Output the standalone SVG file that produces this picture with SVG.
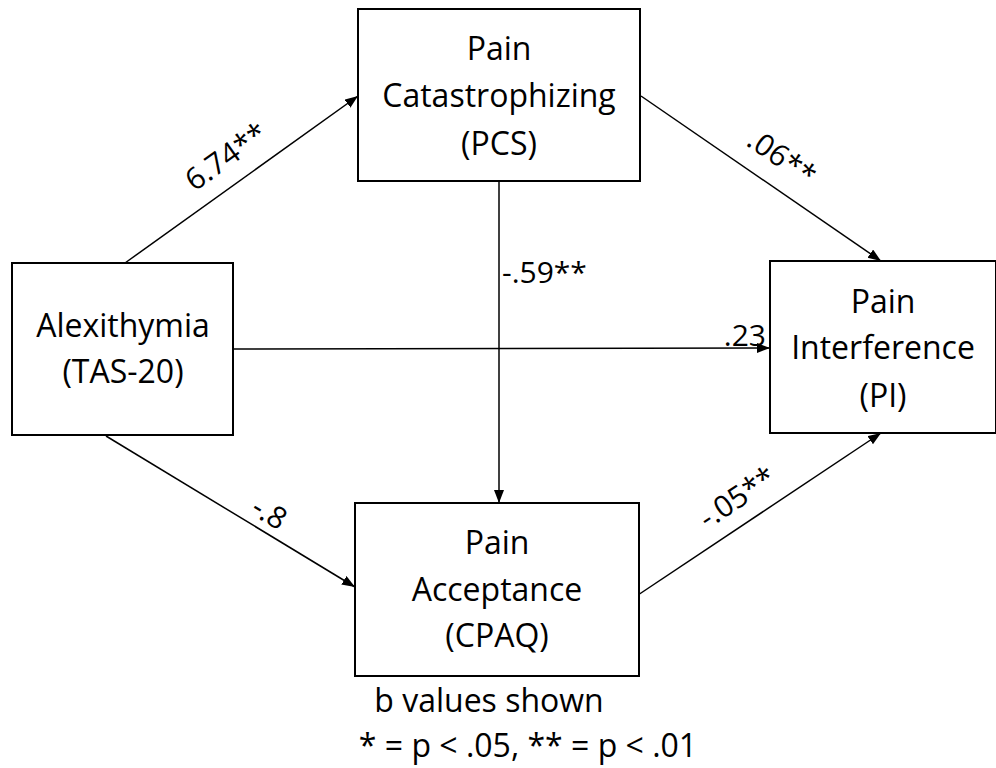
<svg xmlns="http://www.w3.org/2000/svg" width="996" height="768" viewBox="0 0 996 768">
<style>
.box{fill:#fff;stroke:#000;stroke-width:2}
.t{font-family:"Open Sans","Liberation Sans",Arial,sans-serif;font-size:32px;fill:#000;text-anchor:middle}
.l{font-family:"Open Sans","Liberation Sans",Arial,sans-serif;font-size:30px;fill:#000}
.c{stroke:#000;stroke-width:1.5;fill:none;marker-end:url(#ah)}
</style>
<defs>
<marker id="ah" markerUnits="userSpaceOnUse" markerWidth="14" markerHeight="12" refX="13" refY="5" orient="auto">
<path d="M0,0 L13,5 L0,10 z" fill="#000"/>
</marker>
</defs>
<rect width="996" height="768" fill="#fff"/>
<g id="connectors">
<line class="c" x1="125" y1="263" x2="358" y2="96"/>
<line class="c" x1="641" y1="96" x2="881" y2="261"/>
<line class="c" x1="638" y1="595" x2="881" y2="433"/>
<line class="c" x1="106" y1="436" x2="355" y2="587"/>
<line class="c" x1="499" y1="181" x2="499" y2="503"/>
<line class="c" x1="233" y1="349" x2="770" y2="348"/>
<text class="l" text-anchor="middle" transform="translate(232,165) rotate(-35.6)">6.74**</text>
<text class="l" text-anchor="middle" transform="translate(776,166) rotate(34.8)">.06**</text>
<text class="l" text-anchor="middle" transform="translate(743,506) rotate(-33.5)">-.05**</text>
<text class="l" text-anchor="middle" transform="translate(264,522) rotate(31)">-.8</text>
<text class="l" x="502" y="283">-.59**</text>
<text class="l" x="766" y="346" text-anchor="end">.23</text>
</g>
<g id="pcs">
<rect class="box" x="358" y="9" width="282" height="172"/>
<text class="t" x="499" y="60">Pain</text>
<text class="t" x="499" y="107">Catastrophizing</text>
<text class="t" x="499" y="155">(PCS)</text>
</g>
<g id="alexithymia">
<rect class="box" x="12" y="263" width="221" height="172"/>
<text class="t" x="123" y="337">Alexithymia</text>
<text class="t" x="123" y="383">(TAS-20)</text>
</g>
<g id="pi">
<rect class="box" x="770" y="261" width="226" height="172"/>
<text class="t" x="883" y="313">Pain</text>
<text class="t" x="883" y="359">Interference</text>
<text class="t" x="883" y="407">(PI)</text>
</g>
<g id="cpaq">
<rect class="box" x="355" y="503" width="284" height="173"/>
<text class="t" x="497" y="554">Pain</text>
<text class="t" x="497" y="601">Acceptance</text>
<text class="t" x="497" y="647">(CPAQ)</text>
</g>
<g id="legend">
<text class="t" x="489" y="712">b values shown</text>
<text class="t" x="528" y="757">* = p &lt; .05, ** = p &lt; .01</text>
</g>
</svg>
